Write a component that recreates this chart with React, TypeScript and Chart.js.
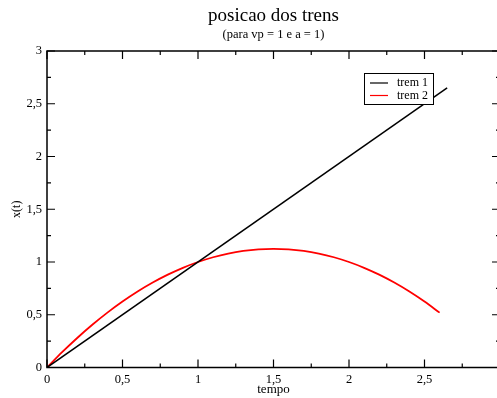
import React, { useEffect, useRef } from "react";
import { Chart, registerables } from "chart.js";

Chart.register(...registerables);

const titleText = "posicao dos trens";
const subtitleText = "(para vp = 1 e a = 1)";
const xAxisTitle = "tempo";
const yAxisTitle = "x(t)";

const trem1Label = "trem 1";
const trem1T = [0, 2.65];
const trem1X = [0, 2.65];

const trem2Label = "trem 2";
const trem2T = [0, 0.1, 0.2, 0.3, 0.4, 0.5, 0.6, 0.7, 0.8, 0.9, 1.0, 1.1, 1.2, 1.3, 1.4, 1.5, 1.6, 1.7, 1.8, 1.9, 2.0, 2.1, 2.2, 2.3, 2.4, 2.5, 2.6];
const trem2X = [0, 0.145, 0.28, 0.405, 0.52, 0.625, 0.72, 0.805, 0.88, 0.945, 1.0, 1.045, 1.08, 1.105, 1.12, 1.125, 1.12, 1.105, 1.08, 1.045, 1.0, 0.945, 0.88, 0.805, 0.72, 0.625, 0.52];

const axisMin = 0;
const axisMax = 3;
const majorStep = 0.5;
const minorStep = 0.25;

const SERIF = "'Liberation Serif', 'DejaVu Serif', serif";

const fmt = (v: number) => String(v).replace(".", ",");

const decorPlugin = {
  id: "decor",
  afterDraw(chart: any) {
    const { ctx, chartArea: a, scales } = chart;
    const xs = scales.x;
    const ys = scales.y;
    ctx.save();
    ctx.strokeStyle = "#000";
    ctx.lineWidth = 1.5;
    ctx.strokeRect(a.left, a.top, a.right - a.left, a.bottom - a.top);
    ctx.lineWidth = 1.2;
    const n = Math.round((axisMax - axisMin) / minorStep);
    for (let i = 0; i <= n; i++) {
      const v = axisMin + i * minorStep;
      const major = Math.abs(v / majorStep - Math.round(v / majorStep)) < 1e-6;
      const len = major ? 8 : 4;
      const px = xs.getPixelForValue(v);
      const py = ys.getPixelForValue(v);
      ctx.beginPath();
      ctx.moveTo(px, a.bottom);
      ctx.lineTo(px, a.bottom - len);
      ctx.moveTo(px, a.top);
      ctx.lineTo(px, a.top + len);
      ctx.moveTo(a.left, py);
      ctx.lineTo(a.left + len, py);
      ctx.moveTo(a.right, py);
      ctx.lineTo(a.right - len, py);
      ctx.stroke();
    }
    const cx = (a.left + a.right) / 2;
    ctx.fillStyle = "#000";
    ctx.textAlign = "center";
    ctx.textBaseline = "middle";
    ctx.font = `19px ${SERIF}`;
    ctx.fillText(titleText, cx, 16);
    ctx.font = `12.5px ${SERIF}`;
    ctx.fillText(subtitleText, cx, 35);
    ctx.font = `13px ${SERIF}`;
    ctx.fillText(xAxisTitle, cx, 390);
    ctx.save();
    ctx.translate(17, (a.top + a.bottom) / 2);
    ctx.rotate(-Math.PI / 2);
    ctx.font = `12px ${SERIF}`;
    ctx.fillText(yAxisTitle, 0, 0);
    ctx.restore();

    // legend
    const lx = 364, ly = 73, lw = 69, lh = 31;
    ctx.fillStyle = "#fff";
    ctx.fillRect(lx, ly, lw, lh);
    ctx.lineWidth = 1;
    ctx.strokeStyle = "#000";
    ctx.strokeRect(lx + 0.5, ly + 0.5, lw, lh);
    ctx.font = `12px ${SERIF}`;
    ctx.textAlign = "left";
    chart.data.datasets.forEach((ds: any, i: number) => {
      const yy = ly + 10 + i * 12.5;
      ctx.strokeStyle = ds.borderColor;
      ctx.lineWidth = 1.2;
      ctx.beginPath();
      ctx.moveTo(lx + 6, yy);
      ctx.lineTo(lx + 24, yy);
      ctx.stroke();
      ctx.fillStyle = "#000";
      ctx.fillText(ds.label, lx + 33, yy);
    });
    ctx.restore();
  },
};

export default function App() {
  const ref = useRef<HTMLCanvasElement>(null);
  useEffect(() => {
    if (!ref.current) return;
    const chart = new Chart(ref.current, {
      type: "scatter",
      data: {
        datasets: [
          {
            label: trem1Label,
            data: trem1T.map((t, i) => ({ x: t, y: trem1X[i] })),
            showLine: true,
            borderColor: "#000000",
            borderWidth: 1.5,
            pointRadius: 0,
            tension: 0,
          },
          {
            label: trem2Label,
            data: trem2T.map((t, i) => ({ x: t, y: trem2X[i] })),
            showLine: true,
            borderColor: "#ff0000",
            borderWidth: 1.8,
            pointRadius: 0,
            cubicInterpolationMode: "monotone",
          },
        ],
      },
      options: {
        responsive: false,
        animation: false,
        devicePixelRatio: 1,
        layout: { padding: { left: 0, top: 51, right: 10, bottom: 0 } },
        plugins: {
          legend: { display: false },
          tooltip: { enabled: false },
          title: { display: false },
        },
        scales: {
          x: {
            type: "linear",
            min: axisMin,
            max: axisMax,
            grid: { display: false, drawTicks: false, tickLength: 0 },
            border: { display: false },
            afterFit: (s: any) => {
              s.height = 30.5;
            },
            ticks: {
              stepSize: majorStep,
              padding: 4.5,
              color: "#000",
              maxRotation: 0,
              font: { family: SERIF, size: 12.5 },
              callback: (v: any) => (Number(v) >= axisMax ? "" : fmt(Number(v))),
            },
          },
          y: {
            type: "linear",
            min: axisMin,
            max: axisMax,
            grid: { display: false, drawTicks: false, tickLength: 0 },
            border: { display: false },
            afterFit: (s: any) => {
              s.width = 47;
            },
            ticks: {
              stepSize: majorStep,
              padding: 5,
              color: "#000",
              font: { family: SERIF, size: 12.5 },
              callback: (v: any) => fmt(Number(v)),
            },
          },
        },
      },
      plugins: [decorPlugin],
    } as any);
    return () => chart.destroy();
  }, []);
  return (
    <div style={{ position: "fixed", left: 0, top: 0, width: 497, height: 398, overflow: "hidden", background: "#fff" }}>
      <canvas ref={ref} width={510} height={398} style={{ width: 510, height: 398, display: "block" }} />
    </div>
  );
}
